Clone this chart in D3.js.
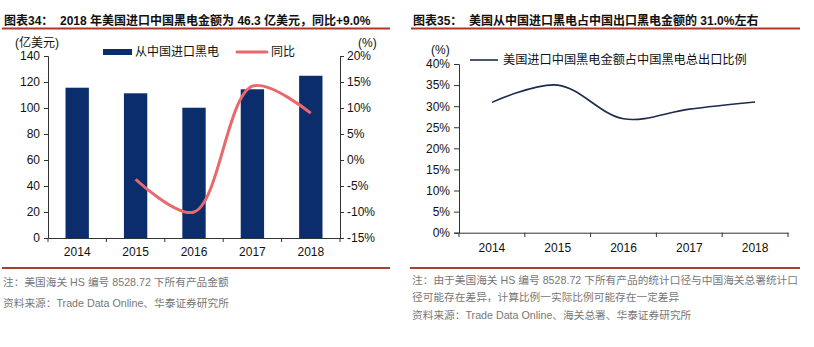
<!DOCTYPE html>
<html>
<head>
<meta charset="utf-8">
<script src="https://cdn.jsdelivr.net/npm/d3@7"></script>
<style>
body { margin: 0; background: #fff; }
svg { display: block; font-family: "Liberation Sans", Arial, "Noto Sans CJK SC", sans-serif; }
</style>
</head>
<body>
<svg width="814" height="347"></svg>
<script>
// data
var years = ['2014', '2015', '2016', '2017', '2018']
var importValue = [115.6, 111.3, 100.2, 114.4, 124.8]      // 亿美元
var yoyYears = ['2015', '2016', '2017', '2018']
var yoyValue = [-3.7, -10.0, 14.2, 9.0]                    // %
var shareValue = [30.9, 35.0, 27.0, 29.3, 31.0]            // %

var leftTicks = [0, 20, 40, 60, 80, 100, 120, 140]
var rightTicks = [-15, -10, -5, 0, 5, 10, 15, 20]
var shareTicks = [0, 5, 10, 15, 20, 25, 30, 35, 40]

var navy = '#0c2d6b'
var salmon = '#e8696c'
var dark = '#1c2b4f'
var red = '#b1362a'

var svg = d3.select('svg')

// titles + red rules
function header(x, x2, text) {
    svg.append('text')
        .attr('x', x).attr('y', 25)
        .attr('font-size', 12).attr('font-weight', 'bold')
        .attr('fill', '#111')
        .attr('xml:space', 'preserve')
        .text(text)
    svg.append('line')
        .attr('x1', x - 2).attr('x2', x2)
        .attr('y1', 28.5).attr('y2', 28.5)
        .attr('stroke', red).attr('stroke-width', 2)
}
header(4, 390, '图表34：  2018 年美国进口中国黑电金额为 46.3 亿美元，同比+9.0%')
header(413, 800, '图表35：  美国从中国进口黑电占中国出口黑电金额的 31.0%左右')

// bottom rules
svg.append('line').attr('x1', 2).attr('x2', 390).attr('y1', 268).attr('y2', 268)
    .attr('stroke', '#a5402e').attr('stroke-width', 2)
svg.append('line').attr('x1', 410).attr('x2', 800).attr('y1', 268).attr('y2', 268)
    .attr('stroke', '#a5402e').attr('stroke-width', 2)

// notes
function note(x, y, text) {
    svg.append('text').attr('x', x).attr('y', y)
        .attr('font-size', 10.7).attr('fill', '#777')
        .text(text)
}
note(3, 286, '注：美国海关 HS 编号 8528.72 下所有产品金额')
note(3, 307, '资料来源：Trade Data Online、华泰证券研究所')
note(412, 284, '注：由于美国海关 HS 编号 8528.72 下所有产品的统计口径与中国海关总署统计口')
note(412, 301, '径可能存在差异，计算比例一实际比例可能存在一定差异')
note(412, 319, '资料来源：Trade Data Online、海关总署、华泰证券研究所')

function styleAxis(g) {
    g.selectAll('path, line').attr('stroke', '#333')
    g.selectAll('text').attr('font-size', 12).attr('fill', '#111')
        .attr('font-family', '"Liberation Sans", Arial, sans-serif')
}

// ---------- left chart ----------
var x1 = d3.scaleBand().domain(years).range([48, 340])
var yL = d3.scaleLinear().domain([0, 140]).range([238, 56])
var yR = d3.scaleLinear().domain([-15, 20]).range([238, 56])

var left = svg.append('g')

left.selectAll('rect')
    .data(importValue)
    .join('rect')
    .attr('x', (d, i) => x1(years[i]) + x1.bandwidth() * 0.3)
    .attr('width', x1.bandwidth() * 0.4)
    .attr('y', d => yL(d))
    .attr('height', d => yL(0) - yL(d))
    .attr('fill', navy)

var lineL = d3.line()
    .x((d, i) => x1(yoyYears[i]) + x1.bandwidth() / 2)
    .y(d => yR(d))
    .curve(d3.curveCatmullRom.alpha(0.5))

left.append('path')
    .datum(yoyValue)
    .attr('d', lineL)
    .attr('fill', 'none')
    .attr('stroke', salmon)
    .attr('stroke-width', 3)

left.append('g').attr('transform', 'translate(48,0)')
    .call(d3.axisLeft(yL).tickValues(leftTicks).tickSize(4).tickPadding(4))
    .call(styleAxis)
left.append('g').attr('transform', 'translate(340,0)')
    .call(d3.axisRight(yR).tickValues(rightTicks).tickSize(4).tickPadding(3).tickFormat(d => d + '%'))
    .call(styleAxis)
left.append('g').attr('transform', 'translate(0,238)')
    .call(d3.axisBottom(x1).tickSize(0).tickPadding(9))
    .call(styleAxis)
// boundary ticks on x axis
left.append('g').selectAll('line')
    .data(years.concat(['end']))
    .join('line')
    .attr('x1', (d, i) => i < years.length ? x1(d) : x1.range()[1])
    .attr('x2', (d, i) => i < years.length ? x1(d) : x1.range()[1])
    .attr('y1', 238).attr('y2', 242)
    .attr('stroke', '#333')

svg.append('text').attr('x', 15).attr('y', 47).attr('font-size', 12).attr('fill', '#111').text('(亿美元)')
svg.append('text').attr('x', 358).attr('y', 47).attr('font-size', 12).attr('fill', '#111').text('(%)')

// legend
svg.append('rect').attr('x', 103).attr('y', 49).attr('width', 29).attr('height', 6).attr('fill', navy)
svg.append('text').attr('x', 135).attr('y', 56).attr('font-size', 12).attr('fill', '#111').text('从中国进口黑电')
svg.append('line').attr('x1', 237).attr('x2', 267).attr('y1', 52).attr('y2', 52)
    .attr('stroke', salmon).attr('stroke-width', 3).attr('stroke-linecap', 'round')
svg.append('text').attr('x', 271).attr('y', 56).attr('font-size', 12).attr('fill', '#111').text('同比')

// ---------- right chart ----------
var x2 = d3.scaleBand().domain(years).range([459, 788])
var yS = d3.scaleLinear().domain([0, 40]).range([232.7, 64])

var right = svg.append('g')

var lineR = d3.line()
    .x((d, i) => x2(years[i]) + x2.bandwidth() / 2)
    .y(d => yS(d))
    .curve(d3.curveCatmullRom.alpha(0.5))

right.append('path')
    .datum(shareValue)
    .attr('d', lineR)
    .attr('fill', 'none')
    .attr('stroke', dark)
    .attr('stroke-width', 1.6)

right.append('g').attr('transform', 'translate(459,0)')
    .call(d3.axisLeft(yS).tickValues(shareTicks).tickSize(5).tickPadding(4).tickFormat(d => d + '%'))
    .call(styleAxis)
right.append('g').attr('transform', 'translate(0,232.7)')
    .call(d3.axisBottom(x2).tickSize(0).tickPadding(11))
    .call(styleAxis)
right.append('g').selectAll('line')
    .data(years.concat(['end']))
    .join('line')
    .attr('x1', (d, i) => i < years.length ? x2(d) : x2.range()[1])
    .attr('x2', (d, i) => i < years.length ? x2(d) : x2.range()[1])
    .attr('y1', 232.7).attr('y2', 237)
    .attr('stroke', '#333')

svg.append('text').attr('x', 431).attr('y', 54).attr('font-size', 12).attr('fill', '#111').text('(%)')
svg.append('line').attr('x1', 470).attr('x2', 498).attr('y1', 60).attr('y2', 60)
    .attr('stroke', dark).attr('stroke-width', 1.6)
svg.append('text').attr('x', 503).attr('y', 64).attr('font-size', 12.2).attr('fill', '#111')
    .text('美国进口中国黑电金额占中国黑电总出口比例')
</script>
</body>
</html>
